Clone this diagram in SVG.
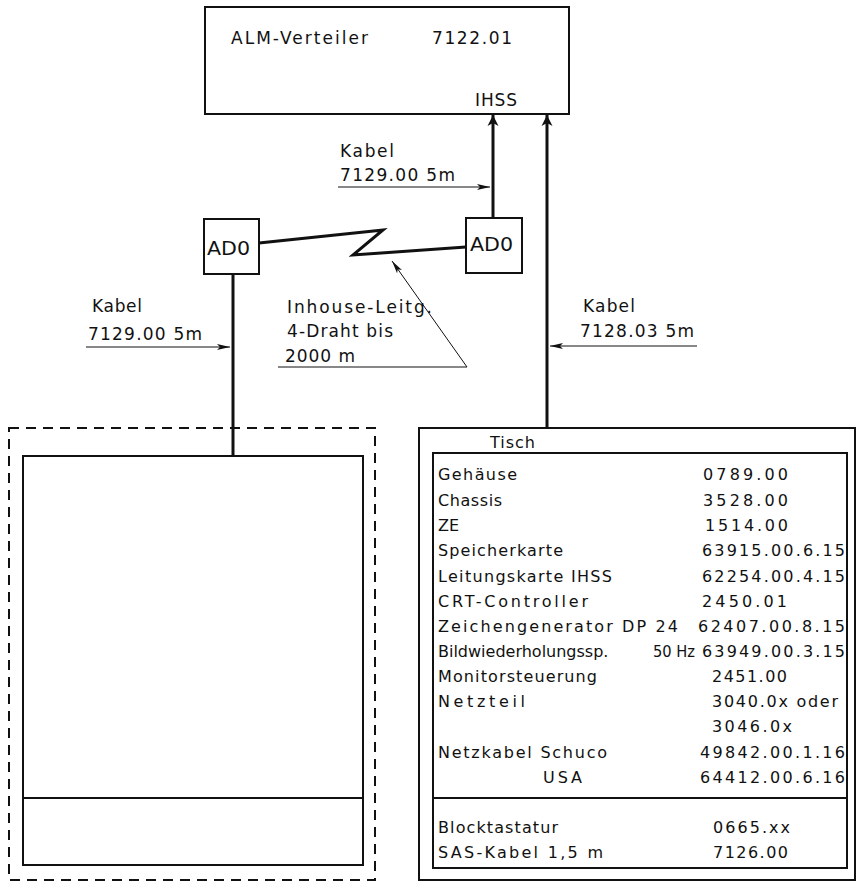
<svg xmlns="http://www.w3.org/2000/svg" width="866" height="883" viewBox="0 0 866 883">
<style>
text{font-family:"DejaVu Sans","Liberation Sans",Arial,sans-serif;fill:#111;}
.t{font-size:16px;}
.l{font-size:17px;}
.box{fill:none;stroke:#111;stroke-width:2;}
.thick{fill:none;stroke:#111;stroke-width:3;}
.thin{fill:none;stroke:#111;stroke-width:1;}
.dash{fill:none;stroke:#111;stroke-width:2;stroke-dasharray:10 7;}
</style>
<defs>
<marker id="bigArrow" markerUnits="userSpaceOnUse" markerWidth="14" markerHeight="14" refX="12" refY="7" orient="auto">
<path d="M12,7 L1,1.5 L4,7 L1,12.5 Z" fill="#111"/>
</marker>
<marker id="thinArrow" markerUnits="userSpaceOnUse" markerWidth="16" markerHeight="10" refX="15" refY="5" orient="auto">
<path d="M15,5 L2,2 L5,5 L2,8 Z" fill="#111"/>
</marker>
</defs>
<rect width="866" height="883" fill="#fff"/>

<g id="alm-verteiler">
<rect class="box" x="205" y="7" width="364" height="107"/>
<text class="l" x="231" y="44" textLength="137" lengthAdjust="spacing">ALM-Verteiler</text>
<text class="l" x="432" y="44" textLength="80" lengthAdjust="spacing">7122.01</text>
<text class="l" x="475" y="106" textLength="42" lengthAdjust="spacing">IHSS</text>
</g>

<g id="ad0-left">
<rect class="box" x="204" y="219" width="55" height="55"/>
<text x="207" y="255" font-size="19" font-family="Liberation Sans, Arial, sans-serif" textLength="43" lengthAdjust="spacingAndGlyphs">AD0</text>
</g>

<g id="ad0-right">
<rect class="box" x="466" y="218" width="56" height="55"/>
<text x="470" y="251" font-size="19" font-family="Liberation Sans, Arial, sans-serif" textLength="43" lengthAdjust="spacingAndGlyphs">AD0</text>
</g>

<g id="left-terminal">
<rect class="dash" x="9" y="428" width="366" height="452"/>
<rect class="box" x="23" y="456" width="340" height="409"/>
<line class="box" x1="23" y1="798" x2="363" y2="798"/>
</g>

<g id="tisch">
<rect class="box" x="419" y="428" width="436" height="452"/>
<text class="t" x="490" y="448" textLength="45" lengthAdjust="spacing">Tisch</text>
<rect class="box" x="433" y="453" width="414" height="415"/>
<line class="box" x1="433" y1="798" x2="847" y2="798"/>
<text class="t" x="438" y="480" textLength="79" lengthAdjust="spacing">Gehäuse</text>
<text class="t" x="703" y="480" textLength="85" lengthAdjust="spacing">0789.00</text>
<text class="t" x="438" y="506" textLength="64" lengthAdjust="spacing">Chassis</text>
<text class="t" x="703" y="506" textLength="85" lengthAdjust="spacing">3528.00</text>
<text class="t" x="438" y="531">ZE</text>
<text class="t" x="705" y="531" textLength="83" lengthAdjust="spacing">1514.00</text>
<text class="t" x="438" y="556" textLength="125" lengthAdjust="spacing">Speicherkarte</text>
<text class="t" x="702" y="556" textLength="143" lengthAdjust="spacing">63915.00.6.15</text>
<text class="t" x="438" y="582" textLength="174" lengthAdjust="spacing">Leitungskarte IHSS</text>
<text class="t" x="702" y="582" textLength="143" lengthAdjust="spacing">62254.00.4.15</text>
<text class="t" x="438" y="607" textLength="150" lengthAdjust="spacing">CRT-Controller</text>
<text class="t" x="702" y="607" textLength="85" lengthAdjust="spacing">2450.01</text>
<text class="t" x="438" y="632" textLength="240" lengthAdjust="spacing">Zeichengenerator DP 24</text>
<text class="t" x="698" y="632" textLength="147" lengthAdjust="spacing">62407.00.8.15</text>
<text class="t" x="438" y="657">Bildwiederholungssp.</text>
<text class="t" x="653" y="657" textLength="42" lengthAdjust="spacingAndGlyphs">50 Hz</text>
<text class="t" x="702" y="657" textLength="143" lengthAdjust="spacing">63949.00.3.15</text>
<text class="t" x="438" y="682" textLength="159" lengthAdjust="spacing">Monitorsteuerung</text>
<text class="t" x="712" y="682" textLength="75" lengthAdjust="spacing">2451.00</text>
<text class="t" x="438" y="707" textLength="87" lengthAdjust="spacing">Netzteil</text>
<text class="t" x="712" y="707" textLength="126" lengthAdjust="spacing">3040.0x oder</text>
<text class="t" x="712" y="732" textLength="80" lengthAdjust="spacing">3046.0x</text>
<text class="t" x="438" y="758" textLength="169" lengthAdjust="spacing">Netzkabel Schuco</text>
<text class="t" x="700" y="758" textLength="145" lengthAdjust="spacing">49842.00.1.16</text>
<text class="t" x="543" y="783" textLength="39" lengthAdjust="spacing">USA</text>
<text class="t" x="700" y="783" textLength="145" lengthAdjust="spacing">64412.00.6.16</text>
<text class="t" x="438" y="833" textLength="120" lengthAdjust="spacing">Blocktastatur</text>
<text class="t" x="713" y="833" textLength="77" lengthAdjust="spacing">0665.xx</text>
<text class="t" x="438" y="858" textLength="165" lengthAdjust="spacing">SAS-Kabel 1,5 m</text>
<text class="t" x="713" y="858" textLength="75" lengthAdjust="spacing">7126.00</text>
</g>

<g id="connectors">
<line class="thick" x1="493" y1="218" x2="493" y2="115" marker-end="url(#bigArrow)"/>
<line class="thick" x1="547" y1="428" x2="547" y2="115" marker-end="url(#bigArrow)"/>
<polyline class="thick" points="259,243 383,230 353,255 466,247"/>
<line class="thick" x1="233" y1="274" x2="233" y2="456"/>
<line class="thin" x1="338" y1="187" x2="490" y2="187" marker-end="url(#thinArrow)"/>
<line class="thin" x1="86" y1="347" x2="230" y2="347" marker-end="url(#thinArrow)"/>
<line class="thin" x1="697" y1="346" x2="550" y2="346" marker-end="url(#thinArrow)"/>
<polyline class="thin" points="278,367 467,367 392,261" marker-end="url(#thinArrow)"/>
</g>

<g id="labels">
<text class="l" x="340" y="157" textLength="54" lengthAdjust="spacing">Kabel</text>
<text class="l" x="340" y="181" textLength="115" lengthAdjust="spacing">7129.00 5m</text>
<text class="l" x="92" y="312" textLength="50" lengthAdjust="spacing">Kabel</text>
<text class="l" x="88" y="340" textLength="114" lengthAdjust="spacing">7129.00 5m</text>
<text class="l" x="287" y="313" textLength="145" lengthAdjust="spacing">Inhouse-Leitg.</text>
<text class="l" x="287" y="337" textLength="106" lengthAdjust="spacing">4-Draht bis</text>
<text class="l" x="285" y="362" textLength="70" lengthAdjust="spacing">2000 m</text>
<text class="l" x="583" y="312" textLength="52" lengthAdjust="spacing">Kabel</text>
<text class="l" x="580" y="337" textLength="114" lengthAdjust="spacing">7128.03 5m</text>
</g>
</svg>
